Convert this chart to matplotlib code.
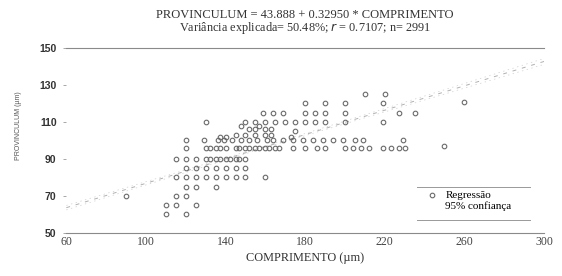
import matplotlib
matplotlib.use("Agg")
import matplotlib.pyplot as plt
from matplotlib.lines import Line2D
import numpy as np

# scatter points (comprimento, provinculum), in µm
comp = [110, 120,
        110, 115, 125,
        90, 115, 120,
        120, 125, 135,
        115, 120, 125, 130, 135, 140, 145, 150, 160,
        120, 125, 130, 135, 140, 145, 150,
        115, 120, 125, 130, 132, 135, 137, 140, 142, 145, 147, 150,
        120, 130, 132, 135, 137, 140, 145, 147, 150, 152, 155, 157, 160, 162, 165, 167,
        174, 180, 186, 190, 200, 204, 208, 212, 219, 223, 227, 230, 250,
        120, 129, 136, 139, 143, 148, 152, 156, 161, 164, 169, 174, 179, 184, 189, 194,
        199, 205, 209, 229,
        137, 140, 145, 150, 155, 160, 163, 173,
        152, 155, 160, 163, 175, 148, 157,
        130, 150, 155, 160, 165, 170, 175, 180, 185, 190, 200, 219,
        159, 164, 169, 180, 185, 190, 200, 227, 235,
        180, 190, 200, 219, 260,
        210, 220]
prov = [60, 60,
        65, 65, 65,
        70, 70, 70,
        75, 75, 75,
        80, 80, 80, 80, 80, 80, 80, 80, 80,
        85, 85, 85, 85, 85, 85, 85,
        90, 90, 90, 90, 90, 90, 90, 90, 90, 90, 90, 90,
        96, 96, 96, 96, 96, 96, 96, 96, 96, 96, 96, 96, 96, 96, 96, 96,
        96, 96, 96, 96, 96, 96, 96, 96, 96, 96, 96, 96, 97,
        100, 100, 100, 100, 100, 100, 100, 100, 100, 100, 100, 100, 100, 100, 100, 100,
        100, 100, 100, 100,
        102, 102, 103, 103, 103, 103, 103, 102,
        106, 106, 106, 106, 105, 108, 108,
        110, 110, 110, 110, 110, 110, 110, 110, 110, 110, 110, 110,
        115, 115, 115, 115, 115, 115, 115, 115, 115,
        120, 120, 120, 120, 121,
        125, 125]

# fitted model as given in the title
intercept = 43.888
slope = 0.32950
ci_half = [1.2, 0.4, 1.6]          # half width of the 95% band at x = 60, mean, 300
ci_x = [60, 160, 300]

x_ticks = [60, 100, 140, 180, 220, 260, 300]
y_ticks = [50, 70, 90, 110, 130, 150]

serif = "Liberation Serif"
grey = "#6a6a6a"

fig = plt.figure(figsize=(5.62, 2.76), dpi=100)
ax = fig.add_axes([0.118, 0.156, 0.850, 0.670])

ax.plot(comp, prov, "o", ms=3.3, mfc="none", mec=grey, mew=0.8, zorder=3)

xl = np.array([60, 300])
ax.plot(xl, intercept + slope * xl, color="#b0b0b0", lw=0.7, ls=(0, (4, 6)), zorder=2)
band_y = intercept + slope * np.array(ci_x)
ax.plot(ci_x, band_y + np.array(ci_half), color="#d0d0d0", lw=0.5, ls=(0, (2, 5)))
ax.plot(ci_x, band_y - np.array(ci_half), color="#d0d0d0", lw=0.5, ls=(0, (2, 5)))

ax.set_xlim(60, 300)
ax.set_ylim(50, 150)
ax.set_xticks(x_ticks)
ax.set_yticks(y_ticks)
ax.set_xticklabels([str(v) for v in x_ticks], family=serif, fontsize=8.5, color="#444")
ax.set_yticklabels([str(v) for v in y_ticks], family="Liberation Sans", fontsize=7.5,
                   color="#333", fontweight="bold")
ax.tick_params(axis="x", length=0, pad=2)
ax.tick_params(axis="y", length=2, width=0.6, color="#999", pad=5)

for side in ["left", "right"]:
    ax.spines[side].set_visible(False)
for side in ["top", "bottom"]:
    ax.spines[side].set_color("#8a8a8a")
    ax.spines[side].set_linewidth(0.8)

ax.set_xlabel("COMPRIMENTO (µm)", family=serif, fontsize=8.8, color="#333", labelpad=3)
ax.set_ylabel("PROVINCULUM (µm)", family="Liberation Sans", fontsize=5, color="#555")
ax.yaxis.set_label_coords(-0.092, 0.58)

fig.text(0.543, 0.945, "PROVINCULUM = 43.888 + 0.32950 * COMPRIMENTO", ha="center",
         va="center", family=serif, fontsize=9, color="#333")
fig.text(0.543, 0.898, "Variância explicada= 50.48%; $r$ = 0.7107; n= 2991", ha="center",
         va="center", family=serif, fontsize=8.8, color="#333")

# legend with only rules above and below
handles = [Line2D([], [], ls="none", marker="o", ms=3.3, mfc="none", mec=grey, mew=0.8),
           Line2D([], [], color="white", lw=0)]
ax.legend(handles, ["Regressão", "95% confiança"], loc="lower left",
          bbox_to_anchor=(0.735, 0.075), frameon=False, handlelength=1.2,
          handletextpad=0.6, prop={"family": serif, "size": 8}, borderpad=0.2,
          labelspacing=0.1)
ax.plot([0.735, 0.97], [0.25, 0.25], transform=ax.transAxes, color="#999", lw=0.7)
ax.plot([0.735, 0.97], [0.07, 0.07], transform=ax.transAxes, color="#999", lw=0.7)

fig.savefig("out.png", dpi=100)
